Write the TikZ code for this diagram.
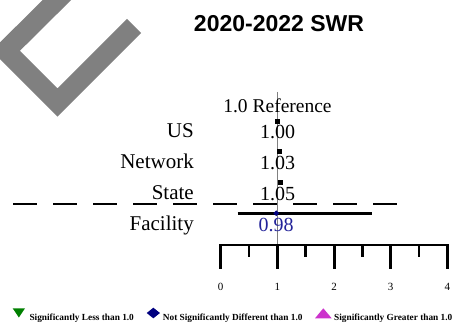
\documentclass[tikz,border=0pt]{standalone}
\usepackage{fontspec}
\setmainfont{Liberation Serif}
\newfontfamily\titlefont{Liberation Sans}
\usetikzlibrary{shapes.geometric}
\definecolor{wmgray}{RGB}{128,128,128}
\definecolor{sigless}{RGB}{0,128,0}
\definecolor{notsig}{RGB}{0,0,128}
\definecolor{siggreater}{RGB}{204,51,204}
\definecolor{facblue}{RGB}{34,34,153}

\begin{document}
\begin{tikzpicture}[x=1pt, y=-1pt,
  lbl/.style={anchor=base east, inner sep=0pt, font=\fontsize{21}{21}\selectfont},
  val/.style={anchor=base, inner sep=0pt, font=\fontsize{20}{20}\selectfont},
  est/.style={fill=black, minimum size=5pt, inner sep=0pt},
  tickl/.style={anchor=base, inner sep=0pt, font=\fontsize{11}{11}\selectfont},
  legtext/.style={anchor=base west, inner sep=0pt, font=\fontsize{9.3}{9.3}\selectfont\bfseries}]
\useasboundingbox (0,0) rectangle (454,326);
\clip (0,0) rectangle (454,326);

% watermark
\draw[wmgray, line width=20pt] (67,-10) -- (5.75,50.75) -- (57.5,102.5) -- (134,26);

\node[anchor=base, inner sep=0pt, font=\titlefont\fontsize{23}{23}\selectfont\bfseries] (title) at (279,32) {2020-2022 SWR};

% reference line
\coordinate (reftop) at (277.4,92);
\coordinate (refbot) at (277.4,245);
\draw[gray, line width=1pt] (reftop) -- (refbot);
\node[val, font=\fontsize{19.5}{19.5}\selectfont] (ref) at (277.5,112.3) {1.0 Reference};

% rows
\node[lbl] (us) at (194,137.3) {US};
\node[lbl] (net) at (194,168.3) {Network};
\node[lbl] (state) at (194,199.3) {State};
\node[lbl] (fac) at (194,230) {Facility};
\node[val] (usv) at (277.5,138.3) {1.00};
\node[val] (netv) at (277.5,169.3) {1.03};
\node[val] (statev) at (277.5,200) {1.05};
\node[val, text=facblue] (facv) at (276,231) {0.98};

\node[est] (usm) at ({220.7+56.65*1.00},121.7) {};
\node[est] (netm) at ({220.7+56.65*1.03},151.7) {};
\node[est] (statem) at ({220.7+56.65*1.05},182.7) {};

\draw[line width=2pt, dash pattern=on 24pt off 16pt] (13.3,204.3) -- (397.7,204.3);

% facility interval
\coordinate (cilo) at ({220.7+56.65*0.30},213.3);
\coordinate (cihi) at ({220.7+56.65*2.665},213.3);
\draw[line width=3pt] (cilo) -- (cihi);
\node[diamond, fill=notsig, minimum width=6pt, minimum height=6pt, inner sep=0pt] (facm) at ({220.7+56.65*0.98},213.3) {};

% axis
\draw[line width=2pt] (219.2,245) -- (448.8,245);
\foreach \i in {0,...,4} {
  \draw[line width=3pt] ({220.7+56.65*\i},244) -- ++(0,25);
  \node[tickl] (t\i) at ({220.7+56.65*\i},290) {\i};
}
\foreach \i in {0.5,1.5,2.5,3.5}
  \draw[line width=2.5pt] ({220.7+56.65*\i},244) -- ++(0,12.5);

% legend
\fill[sigless] (12.7,308.3) -- (25,308.3) -- (18.85,317.5) -- cycle;
\node[legtext] (legless) at (29.3,320) {Significantly Less than 1.0};
\fill[notsig] (146.7,313) -- (153.3,307.7) -- (160,313) -- (153.3,318.3) -- cycle;
\node[legtext] (legnot) at (162.7,320) {Not Significantly Different than 1.0};
\fill[siggreater] (315,318.3) -- (323.3,308.3) -- (331.7,318.3) -- cycle;
\node[legtext] (leggreat) at (334,320) {Significantly Greater than 1.0};
\end{tikzpicture}
\end{document}
